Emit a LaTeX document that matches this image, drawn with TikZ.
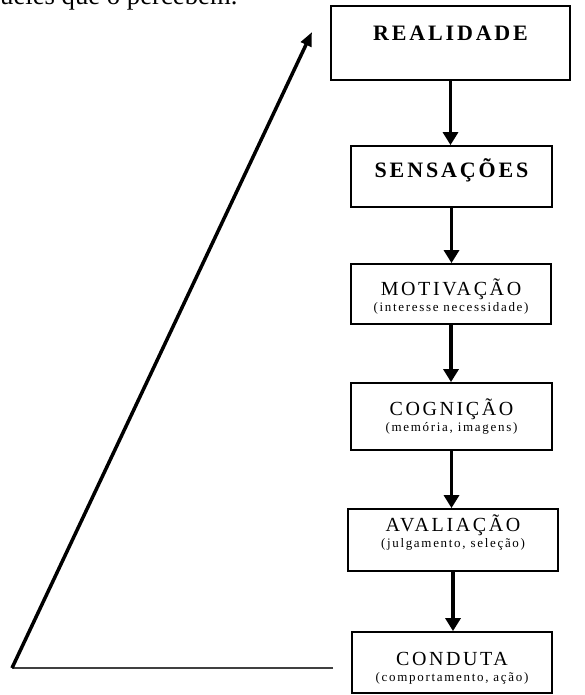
\documentclass[tikz,border=0pt]{standalone}
\usepackage{fontspec}
\setmainfont{Liberation Serif}
\newfontfamily\spaced[LetterSpace=13]{Liberation Serif}
\usetikzlibrary{arrows.meta}
\newcommand\subline[1]{{\fontsize{13}{14}\selectfont #1}}
% title + subtitle, with struts that set where the text sits in the box
\newcommand\twoline[4]{\rule{0pt}{#1pt}#3\\[-5pt]\subline{#4\rule[-#2pt]{0pt}{#2pt}}}

\begin{document}
\begin{tikzpicture}[x=1pt, y=-1pt,
  >={Triangle[length=13pt,width=15pt]},
  stage/.style={draw, line width=1.8pt, inner sep=0pt, align=center,
                font=\spaced\fontsize{20}{21}\selectfont},
  head/.style={stage, font=\spaced\bfseries\fontsize{22}{24}\selectfont},
  arr/.style={->, line width=3.5pt},
  back/.style={line width=2.2pt, draw=black!75}]
  \useasboundingbox (0,0) rectangle (584,695);
  \node[anchor=base west, inner sep=0pt, font=\fontsize{26.7}{30}\selectfont] (intro) at (0,5) {ueles que o percebem.};
  \node[head, minimum width=239pt, text height=35pt, text depth=39pt] (real) at (450.5,43) {REALIDADE};
  \node[head, minimum width=201pt, text height=32pt, text depth=29pt] (sens) at (451.5,176.5) {SENSAÇÕES};
  \node[stage, minimum width=200pt, minimum height=60pt] (motiv) at (451,294) {\twoline{31}{13}{MOTIVAÇÃO}{(interesse necessidade)}};
  \node[stage, minimum width=201pt, minimum height=67pt] (cogn) at (451.5,416.5) {\twoline{32}{19}{COGNIÇÃO}{(memória, imagens)}};
  \node[stage, minimum width=210pt, minimum height=62pt] (aval) at (453,540) {\twoline{22}{24}{AVALIAÇÃO}{(julgamento, seleção)}};
  \node[stage, minimum width=200pt, minimum height=61pt] (cond) at (452,662.5) {\twoline{33}{12}{CONDUTA}{(comportamento, ação)}};
  \foreach \a/\b in {real/sens, sens/motiv, motiv/cogn, cogn/aval, aval/cond}
    {\draw[arr] (\a.south) -- (\a.south |- \b.north);}
  % feedback path back to reality
  \coordinate (back) at (333,668);
  \coordinate (corner) at (12,668);
  \coordinate (tip) at (312,32);
  \draw[back] (back) -- (corner);
  \draw[line width=3.5pt, -{Triangle[length=14pt,width=11pt]}] (corner) -- (tip);
\end{tikzpicture}
\end{document}
